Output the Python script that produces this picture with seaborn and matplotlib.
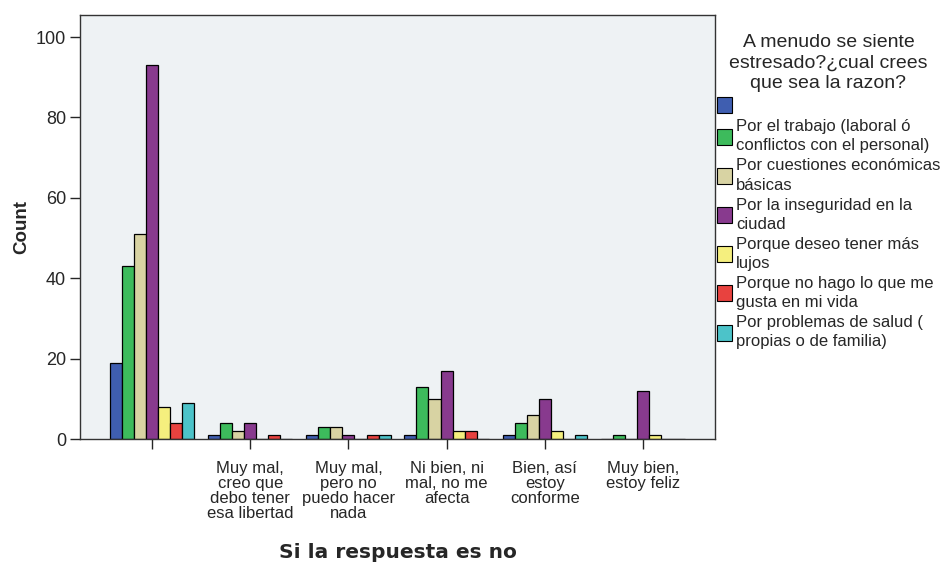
import seaborn as sns
import matplotlib.pyplot as plt
import pandas as pd
from matplotlib.patches import Patch

# categorias del eje x (la primera no tiene etiqueta)
categorias = [" ", "Muy mal,\ncreo que\ndebo tener\nesa libertad", "Muy mal,\npero no\npuedo hacer\nnada",
              "Ni bien, ni\nmal, no me\nafecta", "Bien, así\nestoy\nconforme", "Muy bien,\nestoy feliz"]
razones = [" ", "Por el trabajo (laboral ó\nconflictos con el personal)", "Por cuestiones económicas\nbásicas",
           "Por la inseguridad en la\nciudad", "Porque deseo tener más\nlujos", "Porque no hago lo que me\ngusta en mi vida",
           "Por problemas de salud (\npropias o de familia)"]
colores = ["#3F5EB0", "#3DBB5C", "#D8D3A3", "#883A8E", "#F5EF7E", "#E8423F", "#4CC3C9"]

# conteos por razon (un valor por categoria)
sin_razon = [19, 1, 1, 1, 1, 0]
trabajo = [43, 4, 3, 13, 4, 1]
economicas = [51, 2, 3, 10, 6, 0]
inseguridad = [93, 4, 1, 17, 10, 12]
lujos = [8, 0, 0, 2, 2, 1]
no_hago = [4, 1, 1, 2, 0, 0]
salud = [9, 0, 1, 0, 1, 0]

series = [sin_razon, trabajo, economicas, inseguridad, lujos, no_hago, salud]
df = pd.DataFrame([(c, r, v) for r, vals in zip(razones, series) for c, v in zip(categorias, vals)],
                  columns=["cat", "razon", "count"])

sns.set_style("white")
plt.rcParams['font.family'] = ['Liberation Sans', 'DejaVu Sans']

fig = plt.figure(figsize=(9.5, 5.62), dpi=100)
ax = fig.add_axes([80 / 950, 1 - 439 / 562, 635 / 950, 424 / 562])
ax.set_facecolor("#EEF2F4")

sns.barplot(data=df, x="cat", y="count", hue="razon", order=categorias, hue_order=razones,
            palette=colores, saturation=1, width=0.86, edgecolor="black", linewidth=0.9, ax=ax, legend=False)

ax.set_xlim(-0.735, 5.735)
ax.set_ylim(0, 105.5)
ax.set_yticks([0, 20, 40, 60, 80, 100])
ax.tick_params(axis="y", labelsize=13, length=7, width=1, direction="out", left=True, pad=3)
ax.tick_params(axis="x", labelsize=12, length=7, width=1, direction="out", bottom=True, pad=9)
for t in ax.get_xticklabels():
    t.set_linespacing(0.98)
for s in ax.spines.values():
    s.set_color("#333333")
    s.set_linewidth(1)
ax.set_ylabel("Count", fontsize=13.5, fontweight="bold", labelpad=4)
ax.set_xlabel("Si la respuesta es no", fontsize=14.5, fontweight="bold", family="DejaVu Sans", labelpad=16)

handles = [Patch(facecolor=c, edgecolor="black", linewidth=0.8) for c in colores]
leg = fig.legend(handles, razones, loc="upper left", bbox_to_anchor=(710 / 950, 1 - 27 / 562),
                 frameon=False, fontsize=12, title="A menudo se siente\nestresado?¿cual crees\nque sea la razon?",
                 title_fontsize=14, handlelength=0.9, handleheight=1.1, handletextpad=0.25,
                 labelspacing=0.3, borderaxespad=0)
leg.get_title().set_multialignment("center")
leg.get_title().set_linespacing(1.3)
for t in leg.get_texts():
    t.set_linespacing(1.35)

fig.savefig("out.png", dpi=100)
